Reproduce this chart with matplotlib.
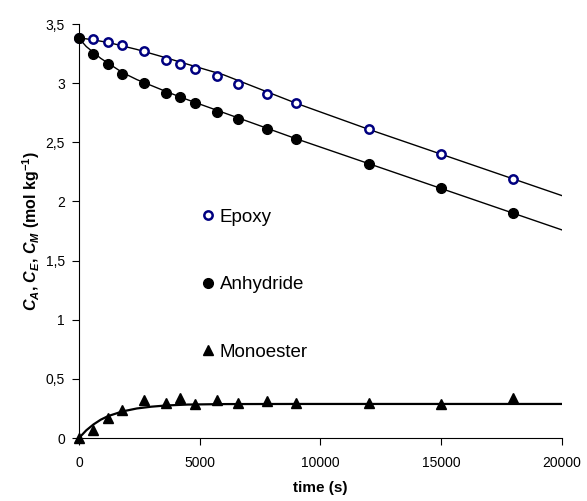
import matplotlib
matplotlib.use('Agg')
import matplotlib.pyplot as plt
from matplotlib.ticker import FuncFormatter

plt.rcParams['font.family'] = ['Liberation Sans', 'DejaVu Sans']
plt.rcParams['mathtext.fontset'] = 'custom'
plt.rcParams['mathtext.rm'] = 'Liberation Sans:bold'
plt.rcParams['mathtext.it'] = 'Liberation Sans:bold:italic'
plt.rcParams['mathtext.bf'] = 'Liberation Sans:bold'

# measured points
time_s = [0, 600, 1200, 1800, 2700, 3600, 4200, 4800, 5700, 6600, 7800, 9000, 12000, 15000, 18000]
epoxy = [3.38, 3.37, 3.35, 3.32, 3.27, 3.20, 3.16, 3.12, 3.06, 2.99, 2.91, 2.83, 2.61, 2.40, 2.19]
anhydride = [3.38, 3.25, 3.16, 3.08, 3.00, 2.92, 2.88, 2.83, 2.76, 2.70, 2.61, 2.53, 2.32, 2.11, 1.90]
monoester = [0.0, 0.07, 0.17, 0.24, 0.32, 0.30, 0.34, 0.29, 0.32, 0.30, 0.31, 0.30, 0.30, 0.29, 0.34]

# model curves
fit_t = [0, 300, 600, 900, 1200, 1800, 2400, 3000, 3600, 4500, 6000, 9000, 12000, 15000, 18000, 20000]
fit_epoxy = [3.38, 3.375, 3.365, 3.355, 3.345, 3.315, 3.285, 3.25, 3.215, 3.16, 3.07, 2.83, 2.61, 2.40, 2.19, 2.05]
fit_anhydride = [3.38, 3.31, 3.26, 3.21, 3.17, 3.09, 3.03, 2.98, 2.93, 2.86, 2.75, 2.53, 2.32, 2.11, 1.90, 1.76]
fit_monoester = [0.0, 0.065, 0.115, 0.155, 0.185, 0.225, 0.25, 0.265, 0.275, 0.283, 0.287, 0.288, 0.288, 0.288, 0.288, 0.288]

fig = plt.figure(figsize=(5.87, 5.01), dpi=100)
ax = fig.add_axes([0.1346, 0.1257, 0.8224, 0.8263])

ax.plot(fit_t, fit_epoxy, color='black', lw=1.0, zorder=2)
ax.plot(fit_t, fit_anhydride, color='black', lw=1.0, zorder=2)
ax.plot(fit_t, fit_monoester, color='black', lw=1.6, zorder=2)

ax.plot(time_s, epoxy, 'o', ms=6, mfc='white', mec='#000080', mew=1.8, ls='none', label='Epoxy', zorder=3, clip_on=False)
ax.plot(time_s, anhydride, 'o', ms=7, mfc='black', mec='black', ls='none', label='Anhydride', zorder=3, clip_on=False)
ax.plot(time_s, monoester, '^', ms=7, mfc='black', mec='black', ls='none', label='Monoester', zorder=3, clip_on=False)

ax.set_xlim(0, 20000)
ax.set_ylim(0, 3.5)
ax.set_xticks([0, 5000, 10000, 15000, 20000])
ax.set_yticks([0, 0.5, 1, 1.5, 2, 2.5, 3, 3.5])
ax.yaxis.set_major_formatter(FuncFormatter(lambda v, p: ('%g' % v).replace('.', ',')))
ax.tick_params(direction='out', length=5, labelsize=10)
ax.tick_params(axis='x', pad=8)
ax.tick_params(axis='y', pad=5)
ax.spines['top'].set_visible(False)
ax.spines['right'].set_visible(False)

ax.set_xlabel('time (s)', fontsize=11, fontweight='bold', labelpad=8)
ax.set_ylabel(r'$C_A$, $C_E$, $C_M$ (mol kg$^{-1}$)', fontsize=11.5, fontweight='bold', labelpad=3)

ax.legend(loc='upper left', bbox_to_anchor=(0.229, 0.572), frameon=False, fontsize=13.5,
          labelspacing=2.68, handletextpad=0.0, handlelength=1.2, borderaxespad=0)

fig.savefig('out.png', dpi=100)
